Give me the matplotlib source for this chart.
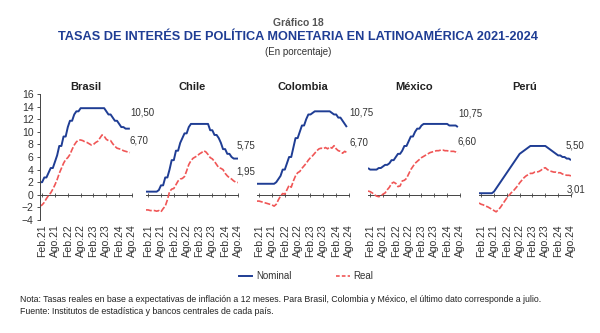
import numpy as np
import matplotlib
matplotlib.use("Agg")
import matplotlib.pyplot as plt
from matplotlib.lines import Line2D

plt.rcParams["font.family"] = ["Liberation Sans Narrow", "Liberation Sans", "DejaVu Sans"]
WIDE = ["Liberation Sans", "DejaVu Sans"]

# monthly series, Jan 2021 onward (Brasil, Colombia, México end in July 2024)
countries = ["Brasil", "Chile", "Colombia", "México", "Perú"]

brasil_nom = [2.00, 2.00, 2.75, 2.75, 3.50, 4.25, 4.25, 5.25, 6.25, 7.75, 7.75, 9.25,
              9.25, 10.75, 11.75, 11.75, 12.75, 13.25, 13.25, 13.75, 13.75, 13.75, 13.75, 13.75,
              13.75, 13.75, 13.75, 13.75, 13.75, 13.75, 13.75, 13.25, 12.75, 12.75, 12.25, 11.75,
              11.75, 11.25, 10.75, 10.75, 10.50, 10.50, 10.50]
brasil_real = [-1.8, -1.6, -1.2, -0.6, -0.1, 0.3, 0.9, 1.6, 2.4, 3.4, 4.2, 5.0,
               5.6, 5.9, 6.4, 7.2, 7.9, 8.4, 8.7, 8.7, 8.6, 8.4, 8.3, 8.1,
               7.9, 8.0, 8.3, 8.5, 9.0, 9.5, 9.3, 8.8, 8.6, 8.6, 8.1, 7.7,
               7.4, 7.3, 7.2, 7.0, 6.9, 6.8, 6.7]

chile_nom = [0.50, 0.50, 0.50, 0.50, 0.50, 0.50, 0.75, 1.50, 1.50, 2.75, 2.75, 4.00,
             5.50, 5.50, 7.00, 7.00, 8.25, 9.00, 9.75, 9.75, 10.75, 11.25, 11.25, 11.25,
             11.25, 11.25, 11.25, 11.25, 11.25, 11.25, 10.25, 10.25, 9.50, 9.50, 9.00, 8.25,
             7.25, 7.25, 6.50, 6.50, 6.00, 5.75, 5.75, 5.75]
chile_real = [-2.4, -2.4, -2.5, -2.5, -2.5, -2.6, -2.5, -2.7, -2.2, -1.8, -0.8, 0.5,
              0.9, 1.0, 1.6, 2.2, 2.5, 2.6, 2.9, 3.8, 4.8, 5.4, 5.8, 6.0,
              6.2, 6.5, 6.7, 7.0, 6.8, 6.4, 5.9, 5.7, 5.3, 4.8, 4.3, 4.2,
              4.0, 3.4, 3.0, 2.7, 2.5, 2.2, 2.0, 1.95]

colombia_nom = [1.75, 1.75, 1.75, 1.75, 1.75, 1.75, 1.75, 1.75, 1.75, 2.00, 2.50, 3.00,
                4.00, 4.00, 5.00, 6.00, 6.00, 7.50, 9.00, 9.00, 10.00, 11.00, 11.00, 12.00,
                12.75, 12.75, 13.00, 13.25, 13.25, 13.25, 13.25, 13.25, 13.25, 13.25, 13.25, 13.00,
                12.75, 12.75, 12.25, 12.25, 11.75, 11.25, 10.75]
colombia_real = [-1.0, -1.0, -1.1, -1.2, -1.3, -1.4, -1.5, -1.6, -1.8, -1.5, -0.8, -0.2,
                 0.2, 0.1, 0.8, 1.5, 1.2, 2.2, 3.0, 3.5, 3.7, 4.2, 4.6, 5.0,
                 5.5, 5.9, 6.2, 6.6, 7.0, 7.3, 7.4, 7.3, 7.5, 7.3, 7.6, 7.4,
                 7.8, 7.3, 7.0, 6.9, 6.6, 6.9, 6.7]

mexico_nom = [4.25, 4.00, 4.00, 4.00, 4.00, 4.25, 4.25, 4.50, 4.75, 4.75, 5.00, 5.50,
              5.50, 6.00, 6.50, 6.50, 7.00, 7.75, 7.75, 8.50, 9.25, 9.25, 10.00, 10.50,
              10.50, 11.00, 11.25, 11.25, 11.25, 11.25, 11.25, 11.25, 11.25, 11.25, 11.25, 11.25,
              11.25, 11.25, 11.00, 11.00, 11.00, 11.00, 10.75]
mexico_real = [0.6, 0.5, 0.3, 0.0, -0.2, -0.3, -0.2, 0.1, 0.3, 0.8, 1.2, 1.8,
               2.0, 1.8, 1.3, 1.4, 2.2, 2.3, 2.6, 3.3, 4.0, 4.5, 5.0, 5.3,
               5.6, 5.9, 6.1, 6.3, 6.5, 6.7, 6.8, 6.9, 7.0, 7.0, 7.1, 7.1,
               7.0, 7.0, 6.9, 6.9, 6.9, 6.8, 6.6]

peru_nom = [0.25, 0.25, 0.25, 0.25, 0.25, 0.25, 0.25, 0.50, 1.00, 1.50, 2.00, 2.50,
            3.00, 3.50, 4.00, 4.50, 5.00, 5.50, 6.00, 6.50, 6.75, 7.00, 7.25, 7.50,
            7.75, 7.75, 7.75, 7.75, 7.75, 7.75, 7.75, 7.75, 7.50, 7.25, 7.00, 6.75,
            6.50, 6.25, 6.25, 6.00, 6.00, 5.75, 5.75, 5.50]
peru_real = [-1.3, -1.5, -1.6, -1.8, -1.9, -2.1, -2.3, -2.5, -2.7, -2.4, -2.0, -1.5,
             -1.0, -0.5, -0.1, 0.3, 0.6, 1.0, 1.4, 1.9, 2.3, 2.7, 3.0, 3.2,
             3.4, 3.4, 3.6, 3.6, 3.7, 3.9, 4.2, 4.3, 4.0, 3.8, 3.7, 3.6,
             3.6, 3.5, 3.5, 3.3, 3.2, 3.1, 3.1, 3.01]

nominal = [brasil_nom, chile_nom, colombia_nom, mexico_nom, peru_nom]
real = [brasil_real, chile_real, colombia_real, mexico_real, peru_real]

tick_pos = [1, 7, 13, 19, 25, 31, 37, 43]
tick_lab = ["Feb.21", "Ago.21", "Feb.22", "Ago.22", "Feb.23", "Ago.23", "Feb.24", "Ago.24"]

# label offsets (points) for the end-of-series values
nom_off = [(0, 8), (-1, 6), (2, 7), (0, 6.5), (-4, 7)]
real_off = [(0, 5), (-1, 4), (2, 4), (0, 4.5), (-3, -6)]

BLUE = "#1f3d94"
RED = "#f05656"
GREY = "#333333"
W, H = 600, 333

fig = plt.figure(figsize=(6, 3.33), dpi=100)

lefts = [40, 146, 257, 368, 479]
for i, name in enumerate(countries):
    ax = fig.add_axes([lefts[i] / W, 1 - 220 / H, 92 / W, 126 / H])
    ax.patch.set_visible(False)
    n = np.arange(len(nominal[i]))
    r = np.arange(len(real[i]))
    ax.plot(n, nominal[i], color=BLUE, lw=1.4, solid_capstyle="butt")
    ax.plot(r, real[i], color=RED, lw=1.2, dashes=(3.5, 1.2))
    ax.set_xlim(0, 43)
    ax.set_ylim(-4, 16)
    for s in ["top", "right", "bottom"]:
        ax.spines[s].set_visible(False)
    ax.set_xticks(tick_pos)
    ax.set_xticklabels(tick_lab, rotation=90, fontsize=7.5, color=GREY, family=WIDE)
    ax.tick_params(axis="x", length=0, pad=3)
    # zero line with tick marks
    zax = ax.secondary_xaxis(0.2)
    zax.set_xticks(tick_pos)
    zax.set_xticklabels([])
    zax.tick_params(axis="x", length=3, direction="inout", width=0.6, color="#444444")
    zax.spines["bottom"].set_linewidth(0.7)
    zax.spines["bottom"].set_color("#444444")
    if i == 0:
        ax.set_yticks(np.arange(-4, 17, 2))
        ax.tick_params(axis="y", labelsize=7.5, length=2.5, width=0.6, colors=GREY, pad=2)
        for t in ax.get_yticklabels():
            t.set_family(WIDE)
        ax.spines["left"].set_linewidth(0.7)
        ax.spines["left"].set_color("#444444")
    else:
        ax.spines["left"].set_visible(False)
        ax.set_yticks([])
    ax.set_title(name, fontsize=8, fontweight="bold", color="#222222", pad=3, family=WIDE)
    for vals, off in ((nominal[i], nom_off[i]), (real[i], real_off[i])):
        v = vals[-1]
        ax.annotate(f"{v:.2f}".replace(".", ","), xy=(len(vals) - 1, v), xytext=off,
                    textcoords="offset points", ha="left", va="bottom" if off[1] > 0 else "top",
                    fontsize=7, color=GREY, annotation_clip=False, family=WIDE)

fig.text(0.497, 1 - 23 / H, "Gráfico 18", ha="center", va="center", fontsize=7.5,
         fontweight="bold", color="#555555")
fig.text(0.497, 1 - 37 / H, "TASAS DE INTERÉS DE POLÍTICA MONETARIA EN LATINOAMÉRICA 2021-2024",
         ha="center", va="center", fontsize=9.2, fontweight="bold", color="#1f3d94")
fig.text(0.497, 1 - 52 / H, "(En porcentaje)", ha="center", va="center", fontsize=7, color=GREY)

handles = [Line2D([], [], color=BLUE, lw=1.4),
           Line2D([], [], color=RED, lw=1.2, dashes=(2.2, 1.3))]
fig.legend(handles, ["Nominal", "Real"], loc="center", bbox_to_anchor=(306 / W, 1 - 276 / H),
           ncol=2, frameon=False, fontsize=7, handlelength=1.4, handletextpad=0.4,
           columnspacing=4.6, labelcolor=GREY)

fig.text(20 / W, 1 - 300 / H,
         "Nota: Tasas reales en base a expectativas de inflación a 12 meses. Para Brasil, Colombia y México, el último dato corresponde a julio.",
         ha="left", va="center", fontsize=6.3, color="#222222")
fig.text(20 / W, 1 - 311 / H,
         "Fuente: Institutos de estadística y bancos centrales de cada país.",
         ha="left", va="center", fontsize=6.3, color="#222222")

fig.savefig("out.png", dpi=100)
